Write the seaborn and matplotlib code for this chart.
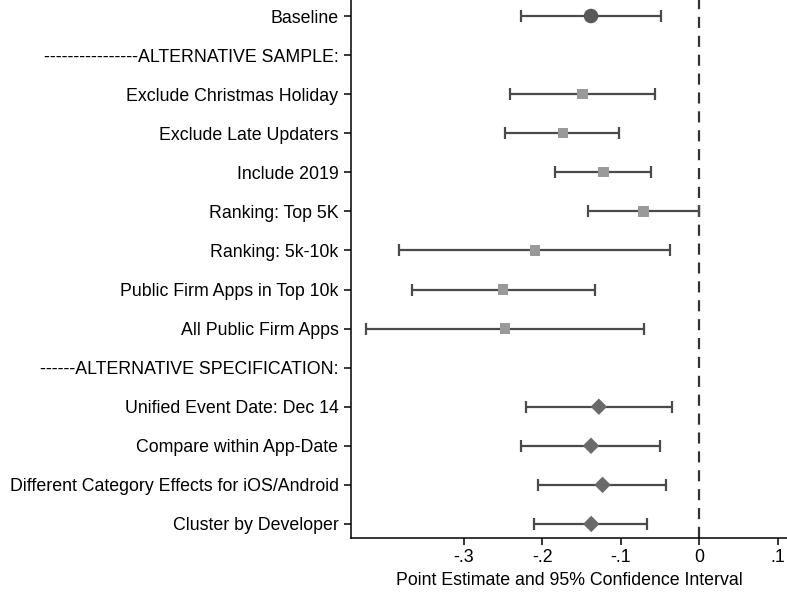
import numpy as np
import pandas as pd
import matplotlib
matplotlib.use("Agg")
import matplotlib.pyplot as plt
import seaborn as sns

labels = [
    "Baseline",
    "----------------ALTERNATIVE SAMPLE:",
    "Exclude Christmas Holiday",
    "Exclude Late Updaters",
    "Include 2019",
    "Ranking: Top 5K",
    "Ranking: 5k-10k",
    "Public Firm Apps in Top 10k",
    "All Public Firm Apps",
    "------ALTERNATIVE SPECIFICATION:",
    "Unified Event Date: Dec 14",
    "Compare within App-Date",
    "Different Category Effects for iOS/Android",
    "Cluster by Developer",
]
groups = ["base", "none", "sample", "sample", "sample", "sample", "sample", "sample", "sample",
          "none", "spec", "spec", "spec", "spec"]
estimate = [-0.138, np.nan, -0.149, -0.174, -0.122, -0.071, -0.2095, -0.2497, -0.2476,
            np.nan, -0.128, -0.138, -0.1233, -0.1377]
ci_low = [-0.2265, np.nan, -0.241, -0.247, -0.184, -0.142, -0.382, -0.366, -0.424,
          np.nan, -0.2205, -0.227, -0.205, -0.210]
ci_high = [-0.049, np.nan, -0.0566, -0.102, -0.061, 0.000, -0.037, -0.1335, -0.071,
           np.nan, -0.0355, -0.0498, -0.043, -0.067]
xticks = [-0.3, -0.2, -0.1, 0.0, 0.1]
xticklabels = ["-.3", "-.2", "-.1", "0", ".1"]

df = pd.DataFrame({"label": labels, "group": groups, "est": estimate,
                   "lo": ci_low, "hi": ci_high})
df["pos"] = np.arange(len(df))

sns.set_style("ticks")
plt.rcParams["font.family"] = ["Liberation Sans", "DejaVu Sans"]

fig = plt.figure(figsize=(7.87, 5.96), dpi=100)
ax = fig.add_axes([351 / 787, 1 - 538 / 596, 1 - 351 / 787, 538 / 596])

d = df.dropna()
ax.errorbar(d["est"], d["pos"], xerr=[d["est"] - d["lo"], d["hi"] - d["est"]],
            fmt="none", ecolor="#4a4a4a", elinewidth=1.6, capsize=4, capthick=1.6, zorder=2)

sub = d[d["group"] != "none"]
sns.scatterplot(data=sub, x="est", y="pos", hue="group", style="group",
                markers={"base": "o", "sample": "s", "spec": "D"},
                palette={"base": "#595959", "sample": "#9a9a9a", "spec": "#6a6a6a"},
                size="group", sizes={"base": 110, "sample": 55, "spec": 70},
                edgecolor="none", legend=False, ax=ax, zorder=3)

ax.axvline(0, color="#333333", lw=1.6, dashes=(5, 3.5), zorder=1)

ax.set_xlim(-0.4435, 0.1115)
ax.set_ylim(13.36, -0.41)
ax.set_yticks(df["pos"])
ax.set_yticklabels(df["label"])
ax.set_xticks(xticks)
ax.set_xticklabels(xticklabels)
ax.tick_params(axis="both", labelsize=12.8, colors="black", length=5, width=1.1)
ax.tick_params(axis="y", pad=4)
ax.tick_params(axis="x", pad=3)
ax.set_xlabel("Point Estimate and 95% Confidence Interval", fontsize=12.8,
              color="black", labelpad=4)
ax.set_ylabel("")
for s in ["top", "right"]:
    ax.spines[s].set_visible(False)
for s in ["left", "bottom"]:
    ax.spines[s].set_color("black")
    ax.spines[s].set_linewidth(1.1)

fig.savefig("out.png", dpi=100)
